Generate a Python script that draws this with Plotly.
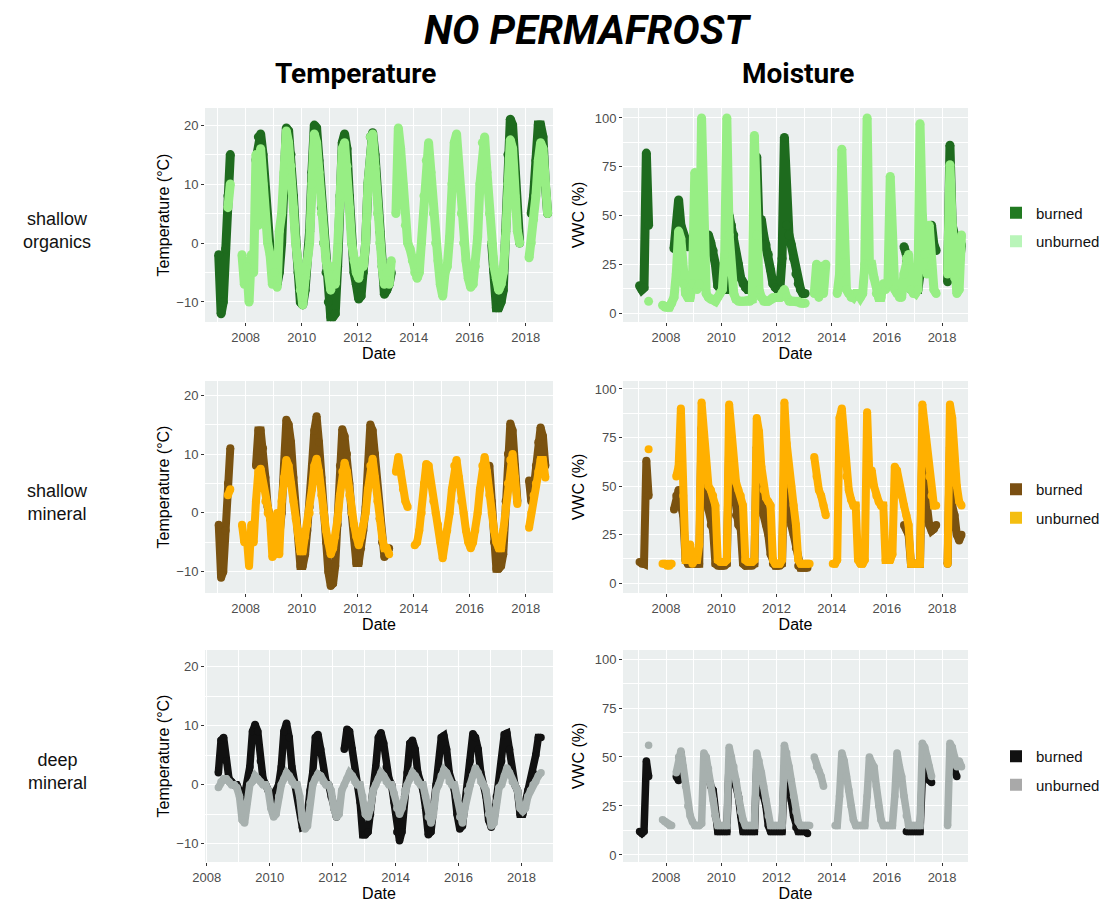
import pandas as pd
import plotly.graph_objects as go

N = None
# monthly readings (mid-month), Jan 2007 .. Dec 2018; None = no data
MONTHS = pd.date_range("2007-01-01", "2018-12-01", freq="MS") + pd.Timedelta(days=14)
YEAR_TICKS = ["2008", "2010", "2012", "2014", "2016", "2018"]
MINOR_YEARS = ["2007", "2009", "2011", "2013", "2015", "2017", "2019"]

# ---------------- shallow organics ----------------
T_ORG_BURNED = [
    -2, -12, -10, -1, 8, 15, N, N, N, N, N, N,          # 2007
    N, N, N, N, 14, 18, 18.5, 15, 8, 2, -1, -4,          # 2008
    -6, -7, -5, 0, 10, 19.5, 19, 15, 8, 1, -5, -10,      # 2009
    -10.5, -8, -3, 2, 12, 20, 19.5, 14, 6, 0, -5, -10,   # 2010
    -12.5, -12.5, -12, -4, 8, 17, 18.5, 16, 8, 0, -5, -7,  # 2011
    -9.5, -9, -5, 0, 10, 18, 18.7, 15, 8, 2, -4, -8.7,   # 2012
    -8, -7, -5, N, N, N, N, N, N, N, N, N,               # 2013
    N, N, N, N, N, N, N, N, N, N, N, N,                  # 2014
    N, N, N, N, N, N, N, N, N, N, N, N,                  # 2015
    N, N, N, N, N, N, N, N, N, 0, -5, -11,               # 2016
    -11, -10, -8, 2, 15, 21, 20, 12, 5, 0, N, N,         # 2017
    N, N, 5, 8, 14, 20, 20, 18, 10, 5, N, N,             # 2018
]
T_ORG_UNBURNED = [
    N, N, N, N, 6, 10, N, N, N, N, -2, -7,
    -4, -10, -2, -5, 15, 3, 16, 10, 3, 0, -2, -7,
    -5, -7.5, 2, 5, 12, 19, 17, 13, 6, 0, -3, -8,
    -10.5, -6, -3, 0, 10, 18.5, 17, 12, 5, 0, -3, -5,
    -8, -4, -7, -1, 8, 16, 17, 13, 6, 0, -3, -5,
    -6, -3, -4, 0, 10, 18, 18.5, 13, 5, 0, -4, -7,
    -5, -7, -3, N, 5, 19.5, 16, 10, 3, 0, -1, -3,
    -5, -6, -5, 0, 8, 14, 17, 12, 5, 0, -3, -7,
    -9, -5, -4, 1, 10, 17, 18.5, 12, 5, 0, -3, -6,
    -7.5, -7, -4, 1, 10, 17, 18, 12, 5, 0, -4, -6,
    -8, -7, -5, 1, 10, 17.5, 16, 8, 2, 0, N, N,
    N, -2.5, 0, 4, 8, 14, 17, 16, 10, 5, N, N,
]
M_ORG_BURNED = [
    14, 12, 13, 82, 45, N, N, N, N, N, N, N,
    N, N, N, 33, 42, 58, 45, 40, 35, 34, N, N,
    N, N, N, N, N, 38, 40, 36, 32, 25, 14, 12,
    12, 12, 12, 50, 45, 40, 30, 25, 18, 15, 13, 12,
    12, 12, 14, 80, 45, 48, 40, 35, 30, 22, 15, 13,
    12, 12, 28, 90, 45, 40, 35, 28, 20, 15, 12, 10,
    10, N, N, N, N, N, N, N, N, N, N, N,
    N, N, N, N, N, N, N, N, N, N, N, N,
    N, N, N, N, N, N, N, N, N, N, N, N,
    N, N, N, N, N, N, N, 34, 30, 13, 12, 12,
    12, 12, 20, 45, 35, 30, 40, 45, 35, 32, N, N,
    N, N, 16, 86, 45, 40, 30, 25, 35, N, N, N,
]
M_ORG_UNBURNED = [
    N, N, N, N, 6, N, N, N, N, N, 4, 3,
    3, 3, 5, 8, 20, 42, 38, 15, 10, 8, 8, 15,
    72, 12, 15, 100, 30, 10, 8, 7, 7, 6, 8, 10,
    12, 30, 100, 40, 20, 10, 7, 6, 6, 6, 6, 6,
    6, 7, 91, 40, 12, 8, 6, 6, 6, 7, 8, 8,
    8, 8, 10, 12, 8, 6, 6, 6, 6, 6, 5, 5,
    5, N, N, N, 10, 25, 8, 24, 10, 25, N, N,
    N, N, 10, 20, 84, 30, 12, 10, 8, 8, 10, 10,
    8, 10, 25, 100, 25, 25, 18, 10, 8, 8, 15, 12,
    15, 70, 20, 12, 10, 8, 8, 20, 28, 30, 12, 10,
    10, 12, 97, 50, 30, 20, 45, 25, 12, 10, N, N,
    N, N, 20, 76, 45, 18, 10, 12, 40, N, N, N,
]

# ---------------- shallow mineral ----------------
T_SHM_BURNED = [
    -2, -11, -10, -3, 5, 11, N, N, N, N, N, N,
    N, N, N, N, 8, 14, 14, 11, 6, 1, -1, -3,
    -5, -6, -4, 0, 8, 15.8, 15, 12, 6, 0, -4, -9,
    -9, -7, -3, 1, 8, 14, 16.4, 12, 6, 0, -5, -10,
    -12.4, -12, -9, -2, 8, 14.2, 13, 10, 5, 0, -4, -8.5,
    -8.5, -6, -3, 1, 8, 15, 14, 10, 4, -1, -5, -7.5,
    -7, -6, N, N, N, N, N, N, N, N, N, N,
    N, N, N, N, N, N, N, N, N, N, N, N,
    N, N, N, N, N, N, N, N, N, N, N, N,
    N, N, N, N, N, N, N, N, 8, 2, -5, -9.5,
    -9.5, -9, -7, 2, 10, 15.2, 14, 8, 2, N, N, N,
    N, 5.5, 2, 4, 8, 12, 14.5, 13, 8, N, N, N,
]
T_SHM_UNBURNED = [
    N, N, N, N, 3, 4, N, N, N, N, -2, -5,
    -4, -9, -2, -5, 2, 7, 7.5, 5, 2, 0, -1, -7.5,
    -7, 0, -7, 2, 6, 9, 8, 5, 2, -1, -3, -6.5,
    -6.5, -4, -2, 0, 4, 8, 9.2, 7, 3, 0, -3, -5,
    -7, -6, -4, -1, 3, 7, 8.5, 7, 3, 0, -2, -4,
    -5.5, -4, -2, 0, 4, 8, 9.2, 6, 2, -1, -4, -6,
    -6, -7, N, N, 7, 9.5, 7, 4, 2, 1, N, N,
    -5.5, -5, -3, 0, 5, 8.3, 8, 5, 2, 0, -2, -5,
    -7.7, -5, -3, 0, 4, 8, 9, 6, 2, 0, -3, -5,
    -6, -5, -3, 0, 4, 8, 9.5, 7, 3, 0, -3, -5,
    -6, -6, -3, 1, 5, 9, 10, 6, 1.5, N, N, N,
    N, -2.5, 0, 3, 5, 7, 9, 9, 6, N, N, N,
]
M_SHM_BURNED = [
    11, 10, 10, 63, 45, N, N, N, N, N, N, N,
    N, N, N, 38, 45, 48, 40, 35, 12, 10, 10, 10,
    10, 10, 10, 80, 60, 45, 38, 30, 27, 10, 9, 9,
    9, 9, 10, 70, 60, 45, 35, 30, 28, 10, 9, 9,
    9, 9, 10, 70, 55, 40, 35, 30, 25, 15, 10, 9,
    9, 9, 10, 65, 50, 40, 30, 25, 18, 9, 8, 8,
    8, 8, N, N, N, N, N, N, N, N, N, N,
    N, N, N, N, N, N, N, N, N, N, N, N,
    N, N, N, N, N, N, N, N, N, N, N, N,
    N, N, N, N, N, N, N, 30, 28, 25, 10, 10,
    10, 10, 10, 70, 50, 40, 30, 27, 28, 30, N, N,
    N, N, 10, 70, 40, 35, 25, 22, 25, N, N, N,
]
M_SHM_UNBURNED = [
    N, N, N, N, 69, N, N, N, N, N, 10, 10,
    9, 9, 10, N, 55, 60, 90, 45, 12, 12, 20, 10,
    12, 12, 20, 93, 75, 60, 50, 48, 45, 40, 12, 11,
    11, 11, 12, 92, 75, 62, 52, 48, 45, 40, 12, 11,
    11, 11, 12, 85, 78, 60, 48, 44, 42, 40, 12, 10,
    10, 10, 12, 93, 72, 58, 50, 40, 30, 12, 10, 10,
    10, 10, 10, N, 65, 55, 48, 45, 40, 35, N, N,
    10, 10, 12, 85, 90, 75, 55, 48, 43, 40, 40, 12,
    10, 10, 12, 88, 55, 58, 50, 45, 42, 40, 40, 12,
    12, 12, 15, 60, 58, 50, 45, 40, 35, 30, 10, 10,
    10, 10, 10, 92, 80, 70, 55, 45, 40, 40, N, N,
    N, N, 10, 92, 85, 60, 50, 42, 40, N, N, N,
]

# ---------------- deep mineral ----------------
T_DPM_BURNED = [
    N, N, N, N, N, N, N, N, N, N, N, N,
    N, N, N, N, 2, 7.5, 8, 4, 1, 0.5, 0, 0,
    -1, -4, -2, 0, 3, 9, 10.2, 9, 4, 1, 0, -1,
    -2, -3, -1, 0, 3, 9, 10.4, 8, 3, 0.5, -1, -4,
    -7.2, -7, -5, -1, 2, 8, 8.5, 6, 2, 0.5, 0, -2,
    -4, -5.5, -4, N, 6, 9.4, 9, 6, 2, 0, -3, -8.5,
    -8.5, -8, -5, -1, 3, 8, 8.8, 7, 3, 1, 0, -3,
    -8, -9.5, -8, -2, 2, 7, 7.5, 6, 2, 0.5, -1, -4,
    -8.5, -8, -4, 0, 3, 8, 8.3, 6, 2, 0.5, -1, -5,
    -7.5, -7, -3, 0, 4, 8.6, 8, 6, 2, 0, -2, -6,
    -7.2, -6, -2, 0, 4, 8.5, 8.7, 6, 2, 0, -1, -5,
    -5, -3, -1, 0, 2, 5, 8, 8, N, N, N, N,
]
T_DPM_UNBURNED = [
    N, N, N, N, N, N, N, N, N, N, N, N,
    N, N, N, N, -0.5, 0.5, 1, 1, 0.5, 0, 0, -0.5,
    -2, -6, -6.5, -3, 0, 0.5, 1.5, 1, 0.5, 0, 0, -1,
    -4, -5.5, -5, -2, 0, 1, 2, 1.5, 0.5, 0, 0, -2,
    -6, -7.5, -7, -3, 0, 1, 1.8, 1.5, 0.5, 0, 0, -1,
    -4, -5.5, -5, -1, 0, 1, 2, 1.5, 0.5, 0, 0, -2,
    -5, -5.5, -4, -1, 0, 1, 2, 1.5, 0.5, 0, 0, -1.5,
    -4, -5, -4, -1, 0, 1, 2, 1.5, 0.5, 0, 0, -2,
    -5.5, -6.5, -5, -1, 0, 1.5, 2.5, 2, 0.5, 0, 0, -2,
    -5.5, -6.5, -4, -1, 0, 1.5, 2.8, 2, 0.5, 0, -1, -5,
    -7, -6.5, -3, -0.5, 0, 1.5, 2.8, 2, 0.5, 0, -1, -4,
    -4.5, -4, -2, -1, 0, 0.5, 1.5, 2, N, N, N, N,
]
M_DPM_BURNED = [
    12, 11, 12, 48, 40, N, N, N, N, N, N, N,
    N, N, N, N, 40, 38, 52, 42, N, N, N, N,
    N, N, N, N, N, 45, 38, 35, 33, 20, 12, 12,
    12, 12, 12, 48, 42, 38, 35, 30, 20, 12, 12, 12,
    12, 12, 12, 45, 38, 33, 30, 25, 15, 12, 12, 12,
    12, 12, 12, 45, 40, 33, 28, 20, 14, 12, 12, 12,
    12, 11, N, N, N, N, N, N, N, N, N, N,
    N, N, N, N, N, N, N, N, N, N, N, N,
    N, N, N, N, N, N, N, N, N, N, N, N,
    N, N, N, N, N, N, N, N, 12, 12, 12, 12,
    12, 12, 12, 40, 52, 40, 38, 37, N, N, N, N,
    N, N, N, N, N, 43, 40, N, N, N, N, N,
]
M_DPM_UNBURNED = [
    N, N, N, N, 56, N, N, N, N, N, 18, 17,
    16, 15, 15, N, 42, 50, 53, 45, 35, 25, 20, 17,
    15, 15, 15, 16, 52, 50, 44, 36, 28, 20, 15, 15,
    15, 15, 15, 55, 50, 45, 38, 30, 22, 18, 15, 15,
    15, 15, 15, 52, 48, 42, 35, 28, 20, 15, 15, 15,
    15, 15, 15, 56, 52, 45, 38, 30, 22, 17, 15, 15,
    15, 15, 15, N, 50, 45, 43, 40, 35, N, N, N,
    N, 15, 15, 30, 52, 48, 40, 33, 25, 18, 15, 15,
    15, 15, 15, 30, 50, 47, 45, 35, 25, 18, 15, 15,
    15, 15, 15, 30, 52, 45, 40, 30, 20, 15, 15, 15,
    15, 15, 15, 57, 55, 50, 45, 40, N, N, N, N,
    N, N, 15, 57, 55, 50, 45, 48, 45, N, N, N,
]

ROW_LABELS = ["shallow<br>organics", "shallow<br>mineral", "deep<br>mineral"]
SERIES_NAMES = ["burned", "unburned"]
COLORS = [("#1E6B1E", "#97EE84"), ("#7A5210", "#FFB000"), ("#111111", "#A7B0AE")]
LEGEND_COLORS = [("#217A21", "#B9F5B9"), ("#7A4F12", "#F4BE10"), ("#111111", "#A9A9A9")]

ROWS = [
    (T_ORG_BURNED, T_ORG_UNBURNED, M_ORG_BURNED, M_ORG_UNBURNED),
    (T_SHM_BURNED, T_SHM_UNBURNED, M_SHM_BURNED, M_SHM_UNBURNED),
    (T_DPM_BURNED, T_DPM_UNBURNED, M_DPM_BURNED, M_DPM_UNBURNED),
]

W, H = 1105, 903
# panel pixel boxes (top, bottom)
ROW_Y = [(108, 322), (381, 593), (650, 862)]
LEGEND_DY = [12, 16.5, 14.5]
LINE_W = [9, 8, 7.5]
TEMP_X = (205, 553)
MOIST_X = (623, 968)
TEMP_YR = [[-13.4, 22.9], [-13.6, 22.4], [-13.1, 22.8]]
MOIST_YR = [[-4.6, 105.1], [-5.0, 104.1], [-3.6, 104.6]]
TEMP_XR = [["2006-07-20", "2018-12-24"], ["2006-07-20", "2018-12-24"], ["2007-12-12", "2019-01-01"]]
MOIST_XR = ["2006-06-10", "2018-12-10"]

fig = go.Figure()

tickfont = dict(family="Liberation Sans, Arial, sans-serif", size=13, color="#4D4D4D")
titlefont = dict(family="Liberation Sans, Arial, sans-serif", size=16, color="#000000")


def xaxis(dom, rng, anchor):
    return dict(domain=dom, range=rng, anchor=anchor, type="date",
                tickvals=[f"{y}-01-01" for y in YEAR_TICKS], ticktext=YEAR_TICKS,
                ticks="outside", ticklen=3, tickwidth=1, tickcolor="#333333",
                tickfont=tickfont, showgrid=True, gridcolor="white", gridwidth=1.2,
                minor=dict(tickvals=[f"{y}-01-01" for y in MINOR_YEARS], showgrid=True,
                           gridcolor="white", gridwidth=0.6, ticks=""),
                zeroline=False, showline=False, automargin=False,
                title=dict(text="Date", font=titlefont, standoff=1))


def yaxis(dom, rng, anchor, vals, minor_vals, title, standoff):
    return dict(domain=dom, range=rng, anchor=anchor, tickvals=vals,
                ticks="outside", ticklen=3, tickwidth=1, tickcolor="#333333",
                tickfont=tickfont, showgrid=True, gridcolor="white", gridwidth=1.2,
                minor=dict(tickvals=minor_vals, showgrid=True, gridcolor="white",
                           gridwidth=0.6, ticks=""),
                zeroline=False, showline=False, automargin=False,
                title=dict(text=title, font=titlefont, standoff=standoff))


layout_axes = {}
for r in range(3):
    top, bot = ROW_Y[r]
    ydom = [1 - bot / H, 1 - top / H]
    ia, ib = 2 * r + 1, 2 * r + 2
    layout_axes[f"xaxis{ia}"] = xaxis([TEMP_X[0] / W, TEMP_X[1] / W], TEMP_XR[r], f"y{ia}")
    layout_axes[f"yaxis{ia}"] = yaxis(ydom, TEMP_YR[r], f"x{ia}", [-10, 0, 10, 20], [-5, 5, 15],
                                      "Temperature (°C)", 2)
    layout_axes[f"xaxis{ib}"] = xaxis([MOIST_X[0] / W, MOIST_X[1] / W], MOIST_XR, f"y{ib}")
    layout_axes[f"yaxis{ib}"] = yaxis(ydom, MOIST_YR[r], f"x{ib}", [0, 25, 50, 75, 100],
                                      [12.5, 37.5, 62.5, 87.5], "VWC (%)", 6)

    tb, tu, mb, mu = ROWS[r]
    lw = LINE_W[r]
    for vals, col, xa, ya in [(tb, COLORS[r][0], f"x{ia}", f"y{ia}"),
                              (tu, COLORS[r][1], f"x{ia}", f"y{ia}"),
                              (mb, COLORS[r][0], f"x{ib}", f"y{ib}"),
                              (mu, COLORS[r][1], f"x{ib}", f"y{ib}")]:
        fig.add_trace(go.Scatter(x=MONTHS, y=vals, xaxis=xa, yaxis=ya, mode="lines+markers",
                                 line=dict(color=col, width=lw), marker=dict(color=col, size=lw),
                                 connectgaps=False, showlegend=False, hoverinfo="skip"))
    leg = "legend" if r == 0 else f"legend{r + 1}"
    for k, name in enumerate(SERIES_NAMES):
        fig.add_trace(go.Scatter(x=[None], y=[None], xaxis=f"x{ia}", yaxis=f"y{ia}", mode="markers",
                                 marker=dict(symbol="square", size=15, color=LEGEND_COLORS[r][k]),
                                 name=name, legend=leg, legendgroup=f"{r}{name}", showlegend=True))

legend_common = dict(xanchor="left", yanchor="middle", bgcolor="rgba(0,0,0,0)",
                     font=dict(family="Liberation Sans, Arial, sans-serif", size=15, color="#111111"),
                     tracegroupgap=6, itemsizing="constant", traceorder="grouped")
legends = {}
for r in range(3):
    top, bot = ROW_Y[r]
    key = "legend" if r == 0 else f"legend{r + 1}"
    legends[key] = dict(x=996 / W, y=1 - ((top + bot) / 2 + LEGEND_DY[r]) / H, **legend_common)

annotations = [
    dict(text="<b><i>NO PERMAFROST</i></b>", x=587 / W, y=1 - 30 / H, xref="paper", yref="paper",
         showarrow=False, xanchor="center", yanchor="middle",
         font=dict(family="Liberation Sans Narrow, Roboto, sans-serif", size=41, color="#000")),
    dict(text="<b>Temperature</b>", x=355 / W, y=1 - 73 / H, xref="paper", yref="paper",
         showarrow=False, xanchor="center", yanchor="middle",
         font=dict(family="Liberation Sans Narrow, Roboto, sans-serif", size=28, color="#000")),
    dict(text="<b>Moisture</b>", x=798 / W, y=1 - 73 / H, xref="paper", yref="paper",
         showarrow=False, xanchor="center", yanchor="middle",
         font=dict(family="Liberation Sans Narrow, Roboto, sans-serif", size=28, color="#000")),
]
for r, lab in enumerate(ROW_LABELS):
    top, bot = ROW_Y[r]
    annotations.append(dict(text=lab, x=57 / W, y=1 - ((top + bot) / 2 + 15) / H, xref="paper",
                            yref="paper", showarrow=False, xanchor="center", yanchor="middle",
                            font=dict(family="Liberation Sans, Arial, sans-serif", size=18,
                                      color="#111111")))

fig.update_layout(width=W, height=H, margin=dict(l=0, r=0, t=0, b=0),
                  paper_bgcolor="white", plot_bgcolor="#EBEFEF",
                  annotations=annotations, **layout_axes, **legends)

fig.write_html("out.html", post_script="document.body.style.margin='0px';",
               config={"displayModeBar": False})
